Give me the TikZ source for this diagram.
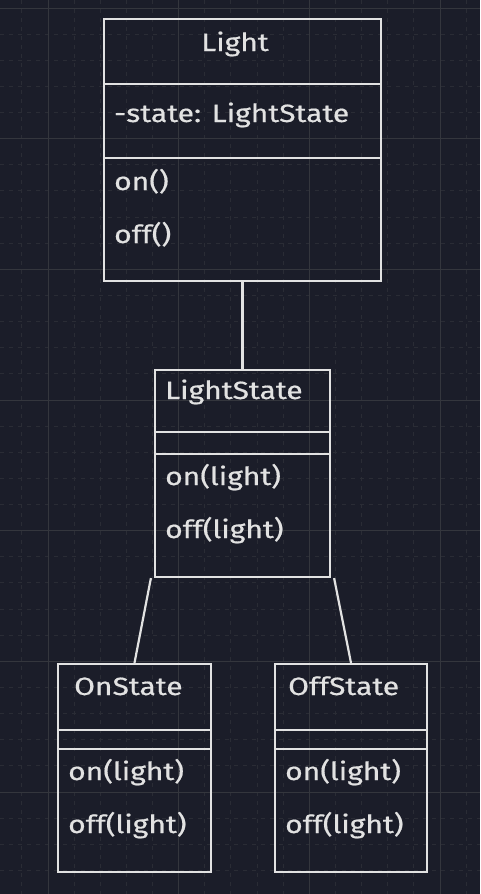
\documentclass[tikz,border=0pt]{standalone}
\usepackage{fontspec}
\newfontfamily\hand[FakeStretch=1.2,FakeBold=0.6]{Fira Sans}
\definecolor{bg}{HTML}{1B1D29}
\definecolor{gmaj}{HTML}{34363D}
\definecolor{gmin}{HTML}{2A2C35}
\definecolor{fg}{HTML}{E2E2E2}
\tikzset{
  box/.style={draw=fg, line width=2.2pt, rectangle, inner sep=0pt},
  sep/.style={draw=fg, line width=1.6pt},
  link/.style={draw=fg, line width=2.2pt},
  lbl/.style={anchor=base west, text=fg, inner sep=0pt, font=\hand\fontsize{25}{28}\selectfont},
  clbl/.style={anchor=base, text=fg, inner sep=0pt, font=\hand\fontsize{25}{28}\selectfont},
}
\begin{document}
\begin{tikzpicture}[x=1pt,y=-1pt]
\useasboundingbox (0,0) rectangle (480,894);
\fill[bg] (0,0) rectangle (480,894);
\begin{scope}
\clip (0,0) rectangle (480,894);
\foreach \i in {-2,...,17} {
  \pgfmathsetmacro\xx{48+\i*26.133}
  \draw[gmin, line width=1pt, dash pattern=on 4pt off 5pt] (\xx,0) -- (\xx,894);
}
\foreach \j in {-1,...,34} {
  \pgfmathsetmacro\yy{8+\j*26.133}
  \draw[gmin, line width=1pt, dash pattern=on 4pt off 5pt] (0,\yy) -- (480,\yy);
}
\foreach \i in {0,...,3} {
  \pgfmathsetmacro\xx{48+\i*130.667}
  \draw[gmaj, line width=1pt] (\xx,0) -- (\xx,894);
}
\foreach \j in {0,...,6} {
  \pgfmathsetmacro\yy{8+\j*130.667}
  \draw[gmaj, line width=1pt] (0,\yy) -- (480,\yy);
}
\end{scope}

% Light
\node[box, minimum width=277pt, minimum height=262pt] (light) at (242.5,150) {};
\draw[sep] (light.west |- 0,84) -- (light.east |- 0,84);
\draw[sep] (light.west |- 0,158) -- (light.east |- 0,158);
\node[clbl] (lightT) at (235,51) {Light};
\node[lbl] (lightA) at (114,122) {-state: LightState};
\node[lbl] (lightM1) at (114,190) {on()};
\node[lbl] (lightM2) at (114,243) {off()};

% LightState
\node[box, minimum width=175pt, minimum height=207pt] (ls) at (242.5,473.5) {};
\draw[sep] (ls.west |- 0,432) -- (ls.east |- 0,432);
\draw[sep] (ls.west |- 0,454) -- (ls.east |- 0,454);
\node[lbl] (lsT) at (165,399) {LightState};
\node[lbl] (lsM1) at (165,485) {on(light)};
\node[lbl] (lsM2) at (165,538) {off(light)};

% OnState
\node[box, minimum width=153pt, minimum height=208pt] (on) at (134.5,768) {};
\draw[sep] (on.west |- 0,730) -- (on.east |- 0,730);
\draw[sep] (on.west |- 0,749) -- (on.east |- 0,749);
\node[lbl] (onT) at (74,695) {OnState};
\node[lbl] (onM1) at (68,780) {on(light)};
\node[lbl] (onM2) at (68,833) {off(light)};

% OffState
\node[box, minimum width=152pt, minimum height=208pt] (off) at (351,768) {};
\draw[sep] (off.west |- 0,730) -- (off.east |- 0,730);
\draw[sep] (off.west |- 0,749) -- (off.east |- 0,749);
\node[lbl] (offT) at (288,695) {OffState};
\node[lbl] (offM1) at (285,780) {on(light)};
\node[lbl] (offM2) at (285,833) {off(light)};

% connectors
\draw[link] (light.south) -- (ls.north);
\draw[link] ([xshift=-3pt]ls.south west) -- (on.north);
\draw[link] ([xshift=3pt]ls.south east) -- (off.north);
\end{tikzpicture}
\end{document}
